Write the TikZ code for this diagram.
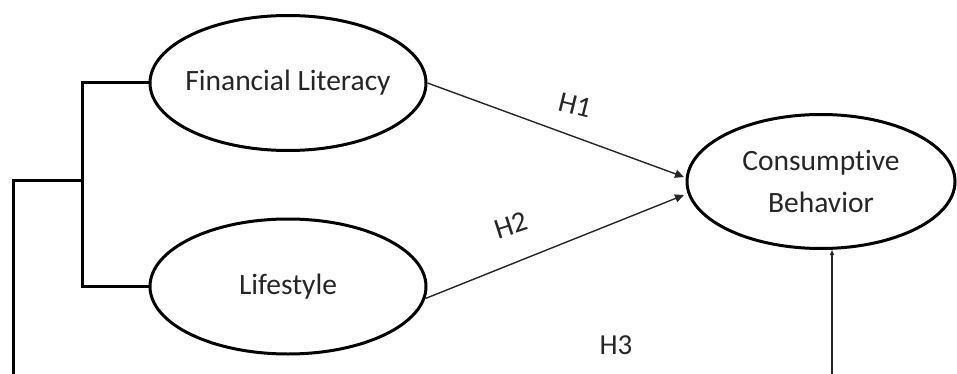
\documentclass[tikz,border=0pt]{standalone}
\usepackage{fontspec}
\setmainfont{Carlito}[Ligatures={NoCommon}]
\usetikzlibrary{shapes.geometric,arrows.meta}
\begin{document}
\begin{tikzpicture}[x=1pt,y=-1pt,
  latent/.style={draw=black,line width=3pt,ellipse,inner sep=0pt,
    minimum width=276pt,minimum height=135pt},
  latenttext/.style={text=black!85,font=\fontsize{29.5}{42}\selectfont,align=center,inner sep=0pt},
  bracketline/.style={draw=black,line width=3pt,line cap=rect},
  path/.style={draw=black!85,line width=1.4pt,-{Triangle[length=9pt,width=8pt]}},
  hlabel/.style={text=black!85,font=\fontsize{29}{34}\selectfont,inner sep=0pt}]
\useasboundingbox (0,0) rectangle (957,374);
\node[latent] (FL) at (288,83) {};
\node[latenttext] (FLt) at (FL.center) {Financial Literacy};
\node[latent] (LS) at (288,286.5) {};
\node[latenttext] (LSt) at (LS.center) {Lifestyle};
\node[latent,minimum width=268pt,minimum height=134pt] (CB) at (821,181.5) {};
\node[latenttext] (CBt) at (CB.center) {Consumptive\\Behavior};
% bracket
\coordinate (j) at (82,180);
\coordinate (k) at (13,180);
\coordinate (e) at (13,380);
\draw[bracketline] (FL.west) -| (j) |- (LS.west);
\draw[bracketline] (j) -- (k) -- (e);
% paths
\coordinate (t1) at (684,177);
\coordinate (t2) at (684,195);
\draw[path] (FL.east) -- (t1);
\draw[path] (LS.-5) -- (t2);
\coordinate (v) at (832,380);
\draw[draw=black!85,line width=1.4pt,-{Triangle[length=5pt,width=4pt]}] (v) -- (v |- CB.south);
% labels
\node[hlabel,rotate=-14] (h1) at (575,105) {H1};
\node[hlabel,rotate=18] (h2) at (511,225) {H2};
\node[hlabel] (h3) at (616,345) {H3};
\end{tikzpicture}
\end{document}
